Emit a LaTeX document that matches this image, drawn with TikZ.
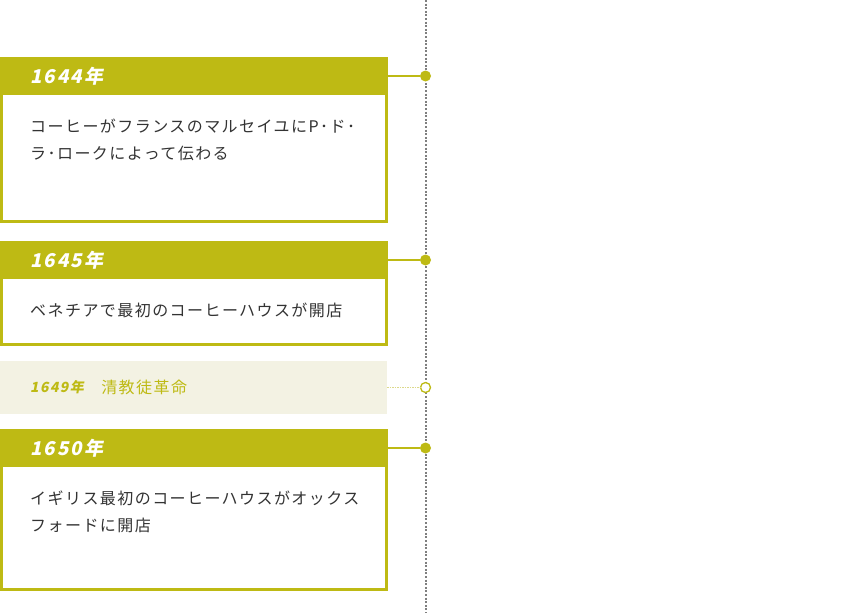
\documentclass[tikz,border=0pt]{standalone}
\usepackage{fontspec}
\setmainfont{Noto Sans CJK JP}
\newfontfamily\yearfont{Noto Sans CJK JP}[FakeSlant=0.2,LetterSpace=10]
\newfontfamily\bodyfont{Noto Sans CJK JP}[LetterSpace=9]
\usepackage{tikz}
\usetikzlibrary{positioning}
\definecolor{moss}{HTML}{BEBA14}
\definecolor{paper}{HTML}{F3F2E3}
\definecolor{ink}{HTML}{333333}
\definecolor{rail}{HTML}{7F7F7F}
\definecolor{faint}{HTML}{DCD98C}

\begin{document}
\begin{tikzpicture}[x=1pt, y=-1pt,
        card/.style={draw=moss, line width=3pt, fill=white, anchor=north west,
            minimum width=385pt, inner sep=0pt},
        head/.style={fill=moss, anchor=north west, minimum width=388pt, minimum height=38pt,
            inner sep=0pt, outer sep=0pt},
        year/.style={text=white, inner sep=0pt, font=\yearfont\bfseries\fontsize{19}{21}\selectfont},
        body/.style={text=ink, align=left, inner sep=0pt,
            font=\bodyfont\fontsize{16}{27}\selectfont},
        dot/.style={circle, fill=moss, inner sep=0pt, minimum size=11pt},
        ring/.style={circle, draw=moss, fill=white, line width=1.3pt, inner sep=0pt, minimum size=10pt},
        link/.style={draw=moss, line width=1.2pt},
        faintlink/.style={draw=faint, line width=1.3pt, dash pattern=on 1.5pt off 1pt}]
        \useasboundingbox (0,0) rectangle (852,613);

        % Timeline
        \coordinate (top) at (425.5,0);
        \coordinate (bottom) at (425.5,613);
        \draw[draw=rail, line width=2pt, dash pattern=on 2pt off 1.6pt] (top) -- (bottom);

        % Place nodes
        \node[card, minimum height=163pt] (card1) at (0,57) {};
        \node[head] (head1) at (card1.north west) {};
        \node[year, anchor=west] at ([xshift=30pt]head1.west) {1644年};
        \node[body, below right=24pt and 30pt of head1.south west]
            (text1) {コーヒーがフランスのマルセイユにP･ド･\\ラ･ロークによって伝わる};
        \node[dot] (dot1) at (top |- head1) {};

        \node[card, minimum height=102pt] (card2) at (0,241) {};
        \node[head] (head2) at (card2.north west) {};
        \node[year, anchor=west] at ([xshift=30pt]head2.west) {1645年};
        \node[body, below right=24pt and 30pt of head2.south west]
            (text2) {ベネチアで最初のコーヒーハウスが開店};
        \node[dot] (dot2) at (top |- head2) {};

        \node[fill=paper, anchor=north west, minimum width=387pt, minimum height=53pt,
            inner sep=0pt, outer sep=0pt] (row3) at (0,361) {};
        \node[text=moss, anchor=west, inner sep=0pt,
            font=\yearfont\bfseries\fontsize{14}{18}\selectfont]
            (year3) at ([xshift=30pt]row3.west) {1649年};
        \node[text=moss, right=17pt of year3, inner sep=0pt, font=\bodyfont\fontsize{16}{18}\selectfont]
            (title3) {清教徒革命};
        \node[ring] (ring3) at (top |- row3) {};

        \node[card, minimum height=159pt] (card4) at (0,429) {};
        \node[head] (head4) at (card4.north west) {};
        \node[year, anchor=west] at ([xshift=30pt]head4.west) {1650年};
        \node[body, below right=24pt and 30pt of head4.south west]
            (text4) {イギリス最初のコーヒーハウスがオックス\\フォードに開店};
        \node[dot] (dot4) at (top |- head4) {};

        % Draw edges
        \draw[link] (head1.east) -- (dot1);
        \draw[link] (head2.east) -- (dot2);
        \draw[faintlink] (row3.east) -- (ring3);
        \draw[link] (head4.east) -- (dot4);
    \end{tikzpicture}
\end{document}
